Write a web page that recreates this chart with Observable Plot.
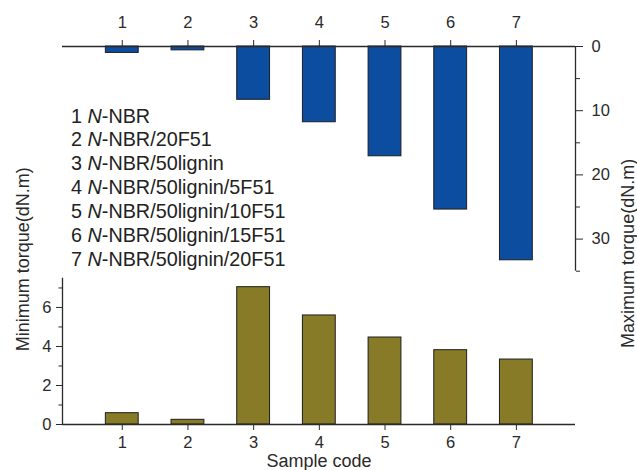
<!DOCTYPE html>
<html>
<head>
<meta charset="utf-8">
<script src="https://cdn.jsdelivr.net/npm/d3@7"></script>
<script src="https://cdn.jsdelivr.net/npm/@observablehq/plot@0.6"></script>
<style>
  body { margin: 0; background: #fff; }
  #wrap { position: relative; width: 637px; height: 470px; overflow: hidden; background: #fff; }
  #wrap svg { position: absolute; left: 0; top: 0; }
  #legend { position: absolute; left: 71px; top: 104.5px; font: 19.8px "Liberation Sans", Arial, sans-serif; line-height: 23.9px; color: #222; white-space: nowrap; }
</style>
</head>
<body>
<div id="wrap"></div>
<script>
const codes = [1, 2, 3, 4, 5, 6, 7];
const sampleNames = [
  "N-NBR",
  "N-NBR/20F51",
  "N-NBR/50lignin",
  "N-NBR/50lignin/5F51",
  "N-NBR/50lignin/10F51",
  "N-NBR/50lignin/15F51",
  "N-NBR/50lignin/20F51"
];
const maxTorque = [1.0, 0.6, 8.3, 11.8, 17.1, 25.4, 33.3];
const minTorque = [0.58, 0.24, 7.04, 5.59, 4.46, 3.81, 3.33];
const maxTicks = [0, 10, 20, 30];
const maxMinorTicks = [5, 15, 25, 35];
const minTicks = [0, 2, 4, 6];
const minMinorTicks = [1, 3, 5, 7];
const xLabel = "Sample code";
const maxLabel = "Maximum torque(dN.m)";
const minLabel = "Minimum torque(dN.m)";

const maxData = codes.map((c, i) => ({code: c, value: maxTorque[i]}));
const minData = codes.map((c, i) => ({code: c, value: minTorque[i]}));

const W = 637, H = 470;
const xDomain = [0.09, 7.9];
const font = "'Liberation Sans', Arial, sans-serif";
const ink = "#2a2a2a";
const halfW = 0.25;

// Bottom panel: minimum torque
const lowerPanel = Plot.plot({
  width: W, height: H,
  marginLeft: 62, marginRight: 62, marginTop: 277.7, marginBottom: 46,
  style: {fontFamily: font, fontSize: "16.5px", color: ink, background: "white"},
  x: {domain: xDomain, axis: null},
  y: {domain: [0, 7.5], axis: null},
  marks: [
    Plot.rect(minData, {x1: d => d.code - halfW, x2: d => d.code + halfW, y1: 0, y2: "value", fill: "#877b28", stroke: "#1e1e1e", strokeWidth: 1}),
    Plot.ruleY([0], {stroke: ink, strokeWidth: 1.3}),
    Plot.ruleX([xDomain[0]], {y1: 0, y2: 7.5, stroke: ink, strokeWidth: 1.3}),
    Plot.axisY({anchor: "left", label: null, ticks: minTicks, tickSize: 6, tickPadding: 5, fontSize: "16.5px", stroke: ink, fill: ink}),
    Plot.axisY({anchor: "left", label: null, ticks: minMinorTicks, tickSize: 3.5, tickFormat: () => "", stroke: ink}),
    Plot.axisX({anchor: "bottom", label: null, ticks: codes, tickSize: 6, tickPadding: 6, tickFormat: d => String(d), fontSize: "16.5px", stroke: ink, fill: ink}),
    Plot.text([xLabel], {frameAnchor: "bottom", dy: 36.5, lineAnchor: "middle", fontSize: 18, fill: ink}),
    Plot.text([minLabel], {frameAnchor: "left", rotate: -90, dx: -39, lineAnchor: "middle", fontSize: 18, fill: ink})
  ]
});

// Top panel: maximum torque (hanging bars)
const upperPanel = Plot.plot({
  width: W, height: H,
  marginLeft: 62, marginRight: 62, marginTop: 46, marginBottom: H - 270.7,
  style: {fontFamily: font, fontSize: "16.5px", color: ink, background: "transparent"},
  x: {domain: xDomain, axis: null},
  y: {domain: [0, 35], reverse: true, axis: null},
  marks: [
    Plot.rect(maxData, {x1: d => d.code - halfW, x2: d => d.code + halfW, y1: 0, y2: "value", fill: "#0c4da0", stroke: "#1e1e1e", strokeWidth: 1}),
    Plot.ruleY([0], {stroke: ink, strokeWidth: 1.3}),
    Plot.ruleX([xDomain[1]], {y1: 0, y2: 35, stroke: ink, strokeWidth: 1.3}),
    Plot.axisX({anchor: "top", label: null, ticks: codes, tickSize: 7, tickPadding: 12, tickFormat: d => String(d), fontSize: "16.5px", stroke: ink, fill: ink}),
    Plot.axisY({anchor: "right", label: null, ticks: maxTicks, tickSize: 7, tickPadding: 9, fontSize: "16.5px", stroke: ink, fill: ink, textAnchor: "start"}),
    Plot.axisY({anchor: "right", label: null, ticks: maxMinorTicks, tickSize: 4, tickFormat: () => "", stroke: ink}),
    Plot.text([maxLabel], {frameAnchor: "right", rotate: -90, dx: 53, lineAnchor: "middle", fontSize: 18, fill: ink})
  ]
});

const wrap = document.getElementById("wrap");
wrap.appendChild(lowerPanel);
wrap.appendChild(upperPanel);

// Legend of sample codes (N in italics)
const legend = document.createElement("div");
legend.id = "legend";
codes.forEach((c, i) => {
  const line = document.createElement("div");
  const name = sampleNames[i];
  line.appendChild(document.createTextNode(c + " "));
  const it = document.createElement("i");
  it.textContent = name.charAt(0);
  line.appendChild(it);
  line.appendChild(document.createTextNode(name.slice(1)));
  legend.appendChild(line);
});
wrap.appendChild(legend);
</script>
</body>
</html>
